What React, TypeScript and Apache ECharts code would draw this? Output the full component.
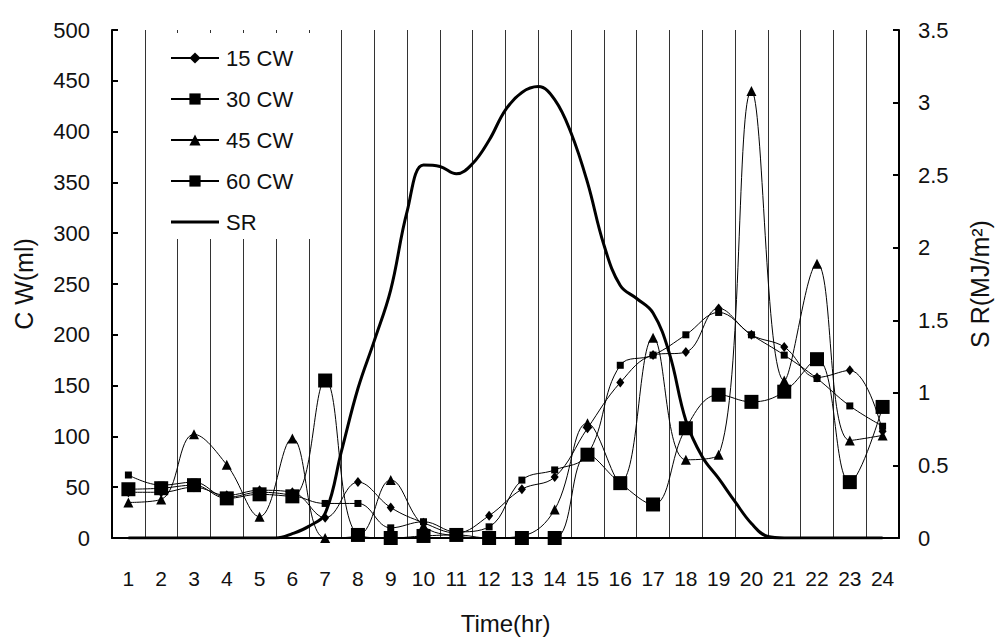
import React, { useEffect, useRef } from "react";
import * as echarts from "echarts";

const hours = ["1","2","3","4","5","6","7","8","9","10","11","12","13","14","15","16","17","18","19","20","21","22","23","24"];
const cw15 = [45, 45, 50, 42, 47, 45, 20, 55, 30, 15, 5, 22, 48, 60, 108, 153, 180, 183, 226, 200, 188, 158, 165, 105];
const cw30 = [62, 52, 55, 40, 45, 42, 34, 34, 10, 16, 6, 11, 57, 67, 82, 170, 180, 200, 222, 200, 180, 157, 130, 110];
const cw45 = [35, 38, 102, 72, 21, 98, 0, 2, 57, 12, 2, 0, 2, 28, 113, 55, 197, 77, 82, 440, 155, 270, 96, 101];
const cw60 = [48, 49, 52, 39, 43, 41, 155, 3, 0, 2, 3, 0, 0, 0, 82, 54, 33, 108, 141, 134, 144, 176, 55, 129];
// Solar radiation read every half hour (hour of day, MJ/m²)
const srTime = [1, 1.5, 2, 2.5, 3, 3.5, 4, 4.5, 5, 5.5, 6, 6.5, 7, 7.5, 8, 8.5, 9, 9.5, 10, 10.5, 11, 11.5, 12, 12.5, 13, 13.5, 14, 14.5, 15, 15.5, 16, 16.5, 17, 17.5, 18, 18.5, 19, 19.5, 20, 20.5, 21, 21.5, 22, 22.5, 23, 23.5, 24];
const srValue = [0, 0, 0, 0, 0, 0, 0, 0, 0, 0, 0.03, 0.08, 0.17, 0.6, 1.03, 1.36, 1.71, 2.25, 2.57, 2.56, 2.51, 2.58, 2.74, 2.95, 3.07, 3.11, 3.02, 2.79, 2.45, 2.02, 1.74, 1.65, 1.55, 1.27, 0.81, 0.56, 0.41, 0.25, 0.1, 0.01, 0, 0, 0, 0, 0, 0, 0];
const leftTicks = { min: 0, max: 500, interval: 50 };
const rightTicks = { min: 0, max: 3.5, interval: 0.5 };

const FONT = "'Liberation Sans', Arial, sans-serif";

export default function App() {
  const ref = useRef<HTMLDivElement>(null);
  useEffect(() => {
    if (!ref.current) return;
    const chart = echarts.init(ref.current, undefined, { renderer: "svg" });
    const base = { color: "#111", fontFamily: FONT };
    const cwSeries = (name: string, data: number[], symbol: string, size: number | number[]) => ({
      name,
      type: "line",
      xAxisIndex: 0,
      yAxisIndex: 0,
      data,
      smooth: 0.4,
      symbol,
      symbolSize: size,
      showAllSymbol: true,
      lineStyle: { color: "#000", width: 1 },
      itemStyle: { color: "#000" },
      z: 3,
    });
    chart.setOption({
      animation: false,
      backgroundColor: "#fff",
      textStyle: { fontFamily: FONT },
      grid: { left: 112, right: 92, top: 30, bottom: 103, containLabel: false },
      legend: {
        orient: "vertical",
        left: 165,
        top: 42,
        itemWidth: 48,
        itemHeight: 14,
        itemGap: 19,
        textStyle: { ...base, fontSize: 22, padding: [0, 0, 0, 2] },
        data: ["15 CW", "30 CW", "45 CW", "60 CW", { name: "SR", icon: "path://M0,0 L48,0 L48,3 L0,3 Z" }],
        z: 5,
      },
      graphic: [
        { type: "rect", shape: { x: 146, y: 33, width: 165, height: 206 }, style: { fill: "#fff" }, z: 1 },
      ],
      xAxis: [
        {
          type: "category",
          data: hours,
          boundaryGap: true,
          name: "Time(hr)",
          nameLocation: "middle",
          nameGap: 73,
          nameTextStyle: { ...base, fontSize: 24 },
          axisLine: { lineStyle: { color: "#000", width: 2 } },
          axisTick: { show: false },
          axisLabel: { ...base, fontSize: 21, margin: 30, interval: 0 },
          splitLine: { show: true, interval: 0, lineStyle: { color: "#333", width: 1 } },
        },
        {
          type: "value",
          min: 0.5,
          max: 24.5,
          show: false,
          splitLine: { show: false },
        },
      ],
      yAxis: [
        {
          type: "value",
          ...leftTicks,
          name: "C W(ml)",
          nameLocation: "middle",
          nameGap: 76,
          nameTextStyle: { ...base, fontSize: 25 },
          axisLine: { show: true, lineStyle: { color: "#000", width: 2 } },
          axisTick: { show: true, inside: true, length: 6, lineStyle: { color: "#000", width: 2 } },
          axisLabel: { ...base, fontSize: 22, margin: 22 },
          splitLine: { show: false },
        },
        {
          type: "value",
          ...rightTicks,
          position: "right",
          name: "S R(MJ/m²)",
          nameLocation: "middle",
          nameGap: 68,
          nameTextStyle: { ...base, fontSize: 25 },
          axisLine: { show: true, lineStyle: { color: "#000", width: 2 } },
          axisTick: { show: true, inside: true, length: 6, lineStyle: { color: "#000", width: 2 } },
          axisLabel: { ...base, fontSize: 22, margin: 19 },
          splitLine: { show: false },
        },
      ],
      series: [
        cwSeries("15 CW", cw15, "diamond", [8, 10]),
        cwSeries("30 CW", cw30, "rect", 7),
        cwSeries("45 CW", cw45, "triangle", 10),
        cwSeries("60 CW", cw60, "rect", 14),
        {
          name: "SR",
          type: "line",
          xAxisIndex: 1,
          yAxisIndex: 1,
          data: srTime.map((t, i) => [t, srValue[i]]),
          smooth: 0.4,
          symbol: "none",
          lineStyle: { color: "#000", width: 3 },
          itemStyle: { color: "#000" },
          z: 4,
        },
      ],
    });
    return () => chart.dispose();
  }, []);
  return <div ref={ref} style={{ width: 1000, height: 641, position: "absolute", left: 0, top: 0 }} />;
}
